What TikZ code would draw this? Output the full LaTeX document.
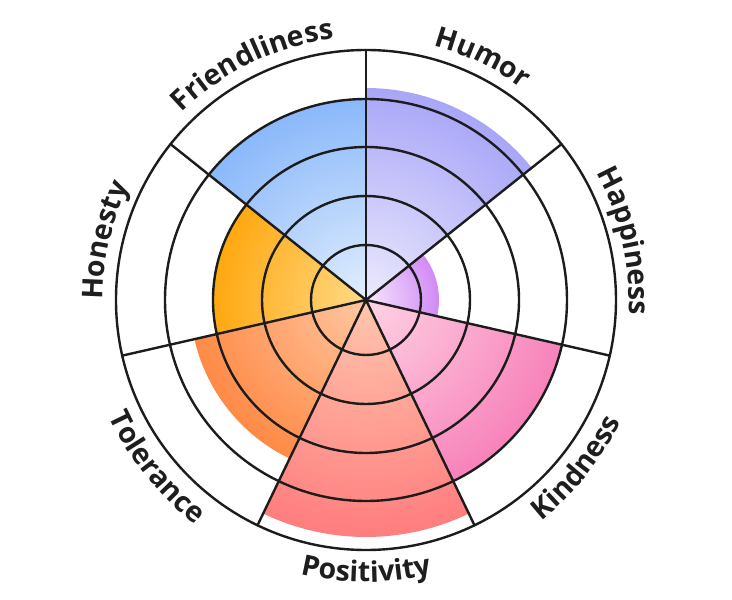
\documentclass[tikz,border=0pt]{standalone}
\usepackage{fontspec}
\newfontfamily\lblfam{Open Sans}
\usetikzlibrary{decorations.text}
\definecolor{linec}{HTML}{1C1C1C}
\definecolor{txtc}{HTML}{1E1E1E}
\definecolor{humI}{HTML}{ECEAFD}\definecolor{humO}{HTML}{A9A6F8}
\definecolor{hapI}{HTML}{F6E8FD}\definecolor{hapO}{HTML}{D28AF5}
\definecolor{kinI}{HTML}{FFD3E4}\definecolor{kinO}{HTML}{F782BA}
\definecolor{posI}{HTML}{FFC6AE}\definecolor{posO}{HTML}{FF7D7E}
\definecolor{tolI}{HTML}{FFC7A2}\definecolor{tolO}{HTML}{FF8A46}
\definecolor{honI}{HTML}{FFDA86}\definecolor{honO}{HTML}{FFA810}
\definecolor{friI}{HTML}{E2EEFE}\definecolor{friO}{HTML}{8AB8FA}
\newcommand\lblfont{\lblfam\bfseries\fontsize{28.5pt}{32pt}\selectfont}
\newcommand\pieslice[5]{%
  \begin{scope}
    \clip (0pt,0pt) -- (#1:#3pt) arc[start angle=#1, end angle=#2, radius=#3pt] -- cycle;
    \shade[inner color=#4, outer color=#5] (0pt,0pt) circle[radius=#3pt];
  \end{scope}}
\newcommand\toplabel[2]{%
  \path[decorate, decoration={text along path, text align=center, text color=txtc,
    text={|\lblfont|#2}}]
    ({#1+55}:263pt) arc[start angle={#1+55}, end angle={#1-55}, radius=263pt];}
\newcommand\botlabel[2]{%
  \path[decorate, decoration={text along path, text align=center, text color=txtc,
    text={|\lblfont|#2}}]
    ({#1-55}:282pt) arc[start angle={#1-55}, end angle={#1+55}, radius=282pt];}
\begin{document}
\begin{tikzpicture}[gridline/.style={draw=linec, line width=2.4pt}]
\useasboundingbox (-366pt,-300pt) rectangle (366pt,300pt);
% sectors (clockwise from top)
\pieslice{90}{38.5714}{212}{humI}{humO}
\pieslice{38.5714}{-12.8571}{73}{hapI}{hapO}
\pieslice{-12.8571}{-64.2857}{201}{kinI}{kinO}
\pieslice{-64.2857}{-115.7143}{237}{posI}{posO}
\pieslice{-115.7143}{-167.1429}{176}{tolI}{tolO}
\pieslice{-167.1429}{-218.5714}{153}{honI}{honO}
\pieslice{141.4286}{90}{201}{friI}{friO}
% rings
\foreach \r in {55,104,153,201,250}
  \draw[gridline] (0pt,0pt) circle[radius=\r pt];
% spokes
\coordinate (c) at (0pt,0pt);
\foreach \k in {0,...,6}
  \draw[gridline, line cap=round] (c) -- ({90-\k*360/7}:250pt);
% labels
\toplabel{115.7143}{Friendliness}
\toplabel{64.2857}{Humor}
\toplabel{12.8571}{Happiness}
\toplabel{167.1429}{Honesty}
\botlabel{-38.5714}{Kindness}
\botlabel{-90}{Positivity}
\botlabel{-141.4286}{Tolerance}
\end{tikzpicture}
\end{document}
